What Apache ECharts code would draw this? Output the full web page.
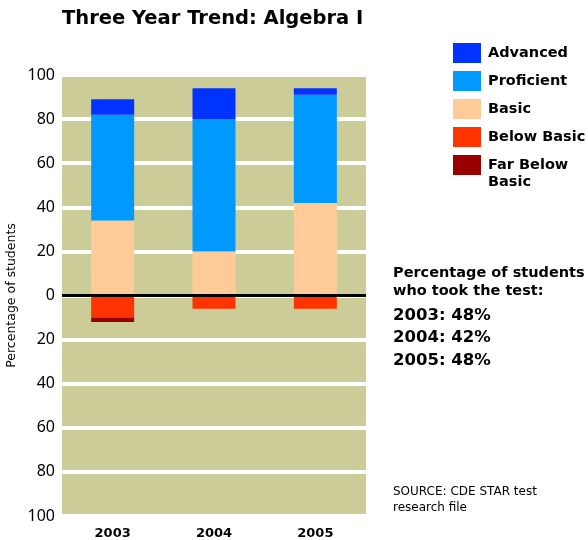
<!DOCTYPE html>
<html>
<head>
<meta charset="utf-8">
<script src="https://cdn.jsdelivr.net/npm/echarts@6/dist/echarts.min.js"></script>
<style>
    html, body { margin: 0; padding: 0; background: #fff; }
    #main { width: 588px; height: 540px; }
</style>
</head>
<body>
<div id="main"></div>
<script>
    // data
    var years = ['2003', '2004', '2005'];
    var advanced = [7, 14, 3];
    var proficient = [48, 60, 49];
    var basic = [34, 20, 42];
    var belowBasic = [-10, -6, -6];
    var farBelowBasic = [-2, 0, 0];
    var tookTest = [48, 42, 48];
    var yTicks = [-100, 100, 20]; // min, max, interval

    var font = '"Noto Sans", "DejaVu Sans", sans-serif';
    var wide = '"DejaVu Sans", sans-serif';

    var myChart = echarts.init(document.getElementById('main'));

    function barSeries(name, data, color) {
        return {
            name: name,
            type: 'bar',
            stack: 'total',
            barWidth: 43,
            z: 3,
            itemStyle: { color: color },
            data: data
        };
    }

    // texte de droite
    var sideText = [];
    sideText.push({
        type: 'text', left: 488, top: 175,
        style: { text: 'Basic', font: 'bold 14.5px ' + wide, fill: '#000' }
    });
    sideText.push({
        type: 'text', left: 393, top: 264,
        style: { text: 'Percentage of students\nwho took the test:', font: 'bold 14.5px ' + wide, fill: '#000', lineHeight: 18 }
    });
    for (var i = 0; i < years.length; i++) {
        sideText.push({
            type: 'text', left: 393, top: 307 + i * 22.5,
            style: { text: years[i] + ': ' + tookTest[i] + '%', font: 'bold 16.5px ' + wide, fill: '#000' }
        });
    }
    sideText.push({
        type: 'text', left: 393, top: 484,
        style: { text: 'SOURCE: CDE STAR test\nresearch file', font: '12px ' + wide, fill: '#000', lineHeight: 16 }
    });

    var option = {
        animation: false,
        title: {
            text: 'Three Year Trend: Algebra I',
            left: 62, top: 9, padding: 0,
            textStyle: { fontFamily: wide, fontWeight: 'bold', fontSize: 19.5, color: '#000' }
        },
        legend: {
            orient: 'vertical',
            left: 453, top: 43, padding: 0,
            itemWidth: 28, itemHeight: 20, itemGap: 8,
            icon: 'rect',
            textStyle: { fontFamily: wide, fontWeight: 'bold', fontSize: 14.5, color: '#000', lineHeight: 20, padding: [0, 0, 0, 2] },
            data: ['Advanced', 'Proficient', 'Basic', 'Below Basic', 'Far Below Basic'],
            formatter: function (n) { return n === 'Far Below Basic' ? 'Far Below' : n; }
        },
        grid: {
            left: 62, right: 222, top: 75, bottom: 24,
            outerBoundsMode: 'none',
            show: true, backgroundColor: '#cccc99', borderWidth: 0
        },
        xAxis: {
            type: 'category',
            data: years,
            axisLine: { show: false },
            axisTick: { show: false },
            axisLabel: { fontFamily: wide, fontWeight: 'bold', fontSize: 13, color: '#000', margin: 11 }
        },
        yAxis: {
            type: 'value',
            min: yTicks[0], max: yTicks[1], interval: yTicks[2],
            name: 'Percentage of students',
            nameLocation: 'middle',
            nameGap: 44,
            nameMoveOverlap: false,
            nameTextStyle: { fontFamily: wide, fontSize: 12.5, color: '#000' },
            axisLine: { show: false },
            axisTick: { show: false },
            axisLabel: {
                fontFamily: font, fontSize: 16, color: '#000', margin: 7,
                formatter: function (v) { return Math.abs(v); }
            },
            splitLine: { lineStyle: { color: '#ffffff', width: 4 } }
        },
        series: [
            barSeries('Basic', basic, '#ffcc99'),
            barSeries('Proficient', proficient, '#0099ff'),
            barSeries('Advanced', advanced, '#0033ff'),
            barSeries('Below Basic', belowBasic, '#ff3300'),
            barSeries('Far Below Basic', farBelowBasic, '#990000'),
            {
                // ligne du zero sous les barres
                name: 'zero', type: 'line', data: [], z: 1,
                markLine: {
                    silent: true, symbol: 'none', label: { show: false },
                    lineStyle: { color: '#000', width: 3, type: 'solid' },
                    data: [{ yAxis: 0 }]
                }
            }
        ],
        graphic: sideText
    };

    myChart.setOption(option);
</script>
</body>
</html>
